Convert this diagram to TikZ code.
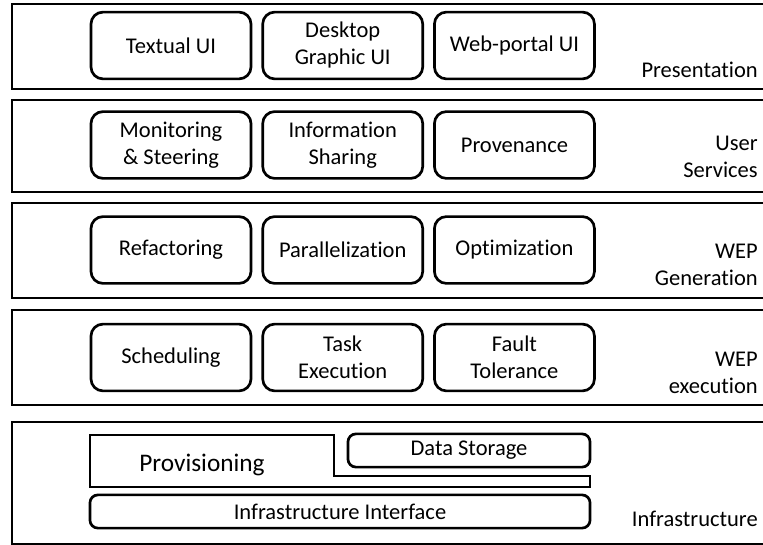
\documentclass[tikz,border=0pt]{standalone}
\usepackage{fontspec}
\setmainfont{Carlito}[Ligatures=NoCommon]
\usetikzlibrary{positioning}

\begin{document}
\begin{tikzpicture}[x=0.025cm, y=-0.025cm,
  layer/.style={black, line width=2.1pt},
  box/.style={draw, black, line width=1.9pt, rounded corners=0.3cm, minimum width=4cm, minimum height=1.67cm, align=center, inner sep=0pt},
  lbl/.style={anchor=east, align=right, inner sep=0pt},
  every node/.style={font=\fontsize{16}{19.2}\selectfont, text=black}]
\clip (0,0) rectangle (763,545);
% layers
\foreach \t/\b in {4/89, 100/192, 203/298, 310/405, 422/544}{
	\draw[layer](12,\t) rectangle (790,\b);
}
% presentation
\node[box] (textui) at (171,45.5) {Textual UI};
\node[box, right=0.225cm of textui] (desktopui) {Desktop\\Graphic UI};
\node[box, right=0.225cm of desktopui] (webui) {Web-portal UI};
% user services
\node[box] (monitor) at (171,145) {Monitoring\\\& Steering};
\node[box, right=0.225cm of monitor] (infoshare) {Information\\Sharing};
\node[box, right=0.225cm of infoshare] (provenance) {Provenance};
% wep generation
\node[box] (refactor) at (171,250) {Refactoring};
\node[box, right=0.225cm of refactor] (parallel) {Parallelization};
\node[box, right=0.225cm of parallel] (optim) {Optimization};
% wep execution
\node[box] (sched) at (171,357.5) {Scheduling};
\node[box, right=0.225cm of sched] (taskexec) {Task\\Execution};
\node[box, right=0.225cm of taskexec] (fault) {Fault\\Tolerance};
% infrastructure
\draw[black, line width=1.9pt](90,435)--(334,435)--(334,476)--(590,476)--(590,487)--(90,487)--cycle;
\node[font=\fontsize{18}{21}\selectfont] (provision) at (202,465) {Provisioning};
\node[box, rounded corners=0.2cm, minimum width=6.05cm, minimum height=0.83cm] (datastore) at (469,450.5) {Data Storage};
\node[box, rounded corners=0.2cm, minimum width=12.5cm, minimum height=0.83cm] (infraif) at (340,511.5) {Infrastructure Interface};
% layer names
\node[lbl] (presentation) at (758,70) {Presentation};
\node[lbl] (usersrv) at (758,157) {User\\Services};
\node[lbl] (wepgen) at (758,265) {WEP\\Generation};
\node[lbl] (wepexec) at (758,373) {WEP\\execution};
\node[lbl] (infra) at (758,519) {Infrastructure};
\end{tikzpicture}
\end{document}
